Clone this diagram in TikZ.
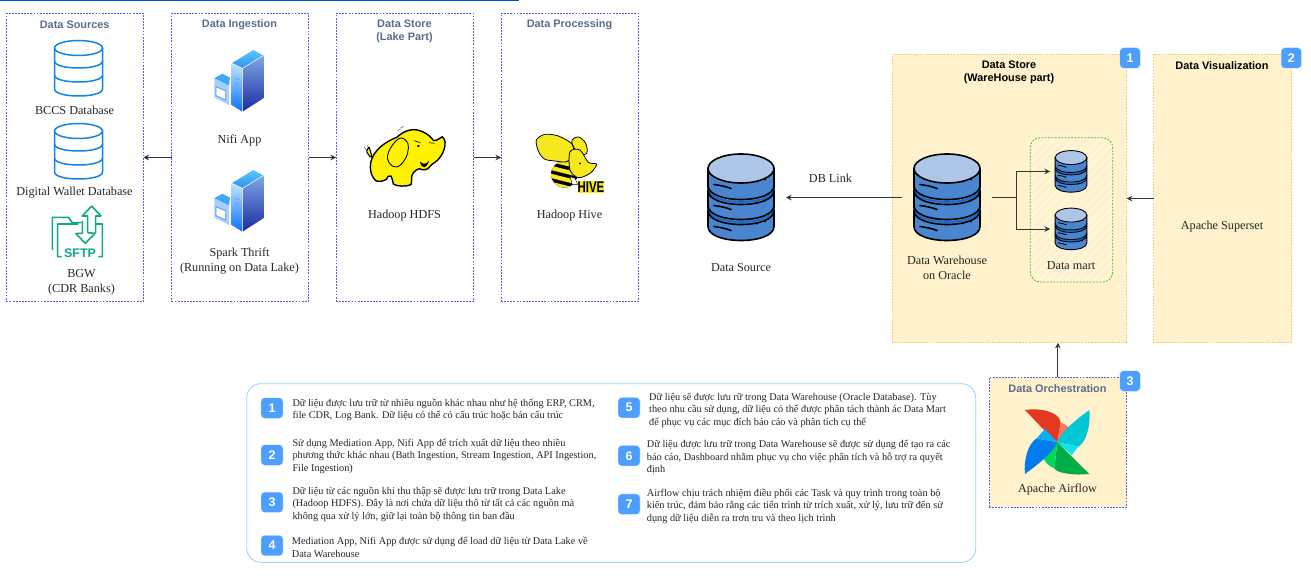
\documentclass[tikz,border=0pt]{standalone}
\usepackage{fontspec}
\setmainfont{Liberation Serif}
\newfontfamily\hfont{Liberation Sans}
\usetikzlibrary{arrows.meta,calc}
\definecolor{tealc}{HTML}{10A884}
\definecolor{slatec}{HTML}{5A6C8C}
\definecolor{dbline}{HTML}{0F85E8}
\definecolor{dbfillc}{HTML}{4A86D0}
\definecolor{dbtop}{HTML}{AEC6E8}
\definecolor{dbstripe}{HTML}{1268CC}
\definecolor{creamc}{HTML}{FFF2CC}
\definecolor{creamline}{HTML}{F0CF80}
\definecolor{badgec}{HTML}{4D9FFF}
\definecolor{panelc}{HTML}{5A5AF5}
\definecolor{hivey}{HTML}{F8E81E}
\definecolor{srvtopa}{HTML}{5AC8FF}
\definecolor{srvtopb}{HTML}{3090F0}
\definecolor{srvfra}{HTML}{BFE4FF}
\definecolor{srvfrb}{HTML}{0A70FF}
\definecolor{srvria}{HTML}{7EA6E6}
\definecolor{srvrib}{HTML}{1A2CA0}
\definecolor{srvboxa}{HTML}{A5CFFF}
\definecolor{srvboxb}{HTML}{3FA8FA}
\definecolor{srvedge}{HTML}{5A90F0}
\newcommand\dbarc[3]{(-#1,#2) .. controls (-#1,#2+#3*1.333) and (#1,#2+#3*1.333) .. (#1,#2)}
\tikzset{
  panel/.style={draw=panelc,line width=0.7pt,dash pattern=on 1.8pt off 1.3pt,inner sep=0,outer sep=0,anchor=north west},
  wpanel/.style={panel,draw=creamline,fill=creamc},
  head/.style={font=\hfont\bfseries\fontsize{10.9}{13}\selectfont,text=slatec,align=center,inner sep=0,yshift=-1pt},
  bhead/.style={head,text=black},
  lbl/.style={font=\fontsize{12.2}{15}\selectfont,text=black!85,align=center,inner sep=0,yshift=-1pt},
  note/.style={font=\fontsize{10.3}{12.4}\selectfont,text=black!85,align=left,anchor=west,inner sep=0,yshift=-1.3pt},
  badge/.style={fill=badgec,draw=white!85!badgec,line width=0.4pt,rounded corners=3.5pt,minimum width=20.5pt,minimum height=20.5pt,inner sep=0,text=white,font=\hfont\bfseries\fontsize{12.5}{14}\selectfont},
  conn/.style={-{Stealth[length=5.5pt,width=5.5pt]},line width=0.8pt,draw=black!80},
  iconbox/.style={inner sep=0,outer sep=0,minimum width=#1},
  pics/dbline/.style={code={
    \draw[dbline,line width=1.5pt,fill=white] (-24,-20) -- \dbarc{24}{21}{7} -- (24,-20);
    \draw[dbline,line width=1.5pt] (0,-20) ellipse[x radius=24,y radius=7.5];
    \draw[dbline,line width=1.5pt] \dbarc{24}{-7}{7};
    \draw[dbline,line width=1.5pt] \dbarc{24}{7}{7};
  }},
  pics/dbfill/.style={code={
    \draw[black,fill=dbfillc] (-33,-29) -- \dbarc{33}{29}{14} -- (33,-29) -- cycle;
    \draw[black,fill=dbtop] (0,-29) ellipse[x radius=33,y radius=14.5];
    \draw[dbstripe] \dbarc{33}{-9.5}{14};
    \draw[black] \dbarc{33}{-12}{14};
    \draw[black] \dbarc{33}{-7}{14};
    \draw[dbstripe] \dbarc{33}{10.5}{14};
    \draw[black] \dbarc{33}{8}{14};
    \draw[black] \dbarc{33}{13}{14};
    \foreach \yy in {-13,8,29}{
      \draw[black,line cap=round] (-27,\yy) .. controls (-20,\yy+1) and (-15,\yy+2) .. (-10,\yy+4);
      \fill[black] (16,\yy-3) circle[radius=1.2];
      \fill[black] (24,\yy-5) circle[radius=1.2];
    }
  }},
  pics/server/.style={code={
    \shade[top color=srvtopa,bottom color=srvtopb] (80,55)--(145,15)--(175,32)--(112,70)--cycle;
    \shade[top color=srvfra,bottom color=srvfrb] (80,55)--(112,70)--(112,200)--(80,180)--cycle;
    \shade[top color=srvria,bottom color=srvrib] (112,70)--(175,32)--(175,160)--(112,200)--cycle;
    \draw[white,line width=0.5pt] (80,55)--(112,70)--(175,32) (112,70)--(112,200);
    \draw[srvedge,line width=0.5pt] (90,100)--(102,105) (90,113)--(102,118);
    \fill[srvboxb] (28,100)--(52,86)--(75,98)--(72,122)--cycle;
    \fill[srvboxa] (28,100)--(72,122)--(72,180)--(28,158)--cycle;
    \draw[srvedge,fill=white,line width=0.7pt] (33,125)--(62,138)--(62,165)--(33,152)--cycle;
  }},
  pics/sftp/.style={code={
    \draw[tealc,line width=1.6pt,line join=round]
      (140,18)--(168,48)--(152,48)--(152,100)
      (140,18)--(112,48)--(128,48)--(128,98)
      (92,100)--(112,100)--(112,62)
      (128,98)--(150,100)--(121,130)--(92,100)
      (50,170)--(38,170)--(38,72)--(100,72)
      (22,150)--(22,52)--(70,52)--(82,68)--(108,68)
      (152,72)--(172,72)--(172,170)--(160,170);
    \node[inner sep=0,text=tealc,font=\hfont\bfseries\fontsize{12.5}{13}\selectfont] at (105,160) {SFTP};
  }},
  pics/elephant/.style={code={
    \draw[black!60,line width=0.5pt] (28,82)--(36,92) (36,76)--(42,84) (135,25)--(146,19) (128,32)--(136,28);
    \draw[black,line width=1.1pt,fill=yellow,line join=round]
      (50,105) .. controls (44,95) and (48,88) .. (42,82) .. controls (34,88) and (34,100) .. (38,100) .. controls (42,108) and (46,112) .. (52,112) -- cycle;
    \draw[black,line width=1.4pt,fill=yellow,line join=round] (46,140) .. controls (46,105) and (75,72) .. (125,52)
      .. controls (150,30) and (175,22) .. (205,36) .. controls (222,44) and (230,55) .. (236,62)
      .. controls (245,62) and (255,55) .. (262,50) .. controls (275,60) and (272,85) .. (258,108)
      .. controls (248,125) and (232,130) .. (226,138) .. controls (220,150) and (205,152) .. (192,146)
      .. controls (182,150) and (172,158) .. (170,170) .. controls (168,178) and (172,188) .. (168,194)
      .. controls (155,200) and (125,200) .. (115,192) .. controls (112,180) and (112,175) .. (108,168)
      .. controls (100,166) and (96,170) .. (94,178) .. controls (85,184) and (70,186) .. (62,182)
      .. controls (50,170) and (46,155) .. (46,140) -- cycle;
    \draw[black,line width=0.9pt,fill=yellow] plot[smooth cycle,tension=0.7] coordinates {
      (128,58) (100,98) (102,128) (125,141) (150,118) (160,85) (152,60)};
    \fill[black] (190,78) circle[x radius=5,y radius=3];
    \draw[black,line width=0.6pt] (178,62) -- (196,68);
    \draw[black,line width=0.6pt] (222,68) -- (238,70);
    \fill[black] (195,125) .. controls (205,135) and (215,132) .. (222,122) .. controls (215,148) and (200,148) .. (195,125);
  }},
  pics/hive/.style={code={
    \begin{scope}
      \clip (118,148) circle[radius=40];
      \fill[black] (118,148) circle[radius=40];
      \foreach \yy in {96,120,144,168}{
        \fill[hivey] (70,\yy) -- (165,\yy+24) -- (165,\yy+37) -- (70,\yy+13) -- cycle;}
    \end{scope}
    \draw[black,line width=0.8pt,fill=hivey,line join=round] plot[smooth cycle,tension=0.5] coordinates {
      (34,45) (60,28) (100,33) (140,56) (145,85) (125,110) (90,108) (58,102) (40,78)};
    \draw[black,line width=0.8pt,fill=hivey] plot[smooth cycle,tension=0.6] coordinates {
      (140,50) (160,36) (182,55) (185,85) (160,85)};
    \draw[black,line width=0.8pt,fill=hivey] plot[smooth cycle,tension=0.5] coordinates {
      (135,80) (165,75) (190,112) (215,118) (195,145) (160,158) (135,135)};
    \fill[black] (165,115) circle[radius=3];
    \fill[white,draw=black,line width=0.4pt] (135,155) -- (150,160) -- (158,178) -- (142,178) -- cycle;
    \fill[hivey] (158,168) rectangle (238,205);
    \node[inner sep=0,text=black,font=\hfont\bfseries\fontsize{13.5}{14}\selectfont] at (198,187) {\scalebox{0.85}[1.15]{HIVE}};
  }},
  pics/airflow/.style={code={
    \definecolor{afr}{HTML}{E43921}\definecolor{afrl}{HTML}{FF7557}
    \definecolor{afc}{HTML}{00C7D4}\definecolor{afcl}{HTML}{11E1EE}
    \definecolor{afg}{HTML}{00AD46}\definecolor{afgl}{HTML}{04D659}
    \definecolor{afb}{HTML}{017CEE}\definecolor{afbl}{HTML}{00B1F6}
    \fill[afr] (15,15) .. controls (60,8) and (118,20) .. (122,52) -- (112,112) -- (72,75) -- cycle;
    \fill[afrl] (122,52) .. controls (135,58) and (148,66) .. (155,75) -- (112,112) -- cycle;
    \fill[afc] (208,15) .. controls (212,60) and (200,110) .. (175,125) -- (112,112) .. controls (120,85) and (160,50) .. (208,15) -- cycle;
    \fill[afcl] (175,125) -- (155,150) -- (112,112) -- cycle;
    \fill[afg] (208,207) .. controls (165,212) and (110,205) .. (103,190) -- (112,112) -- (150,150) -- cycle;
    \fill[afgl] (103,190) .. controls (88,185) and (76,172) .. (70,160) -- (112,112) -- cycle;
    \fill[afb] (15,207) .. controls (10,165) and (25,115) .. (50,100) -- (112,112) .. controls (100,140) and (65,170) .. (15,207) -- cycle;
    \fill[afbl] (50,100) -- (75,72) -- (112,112) -- cycle;
  }},
}
\begin{document}
\begin{tikzpicture}[x=1pt,y=-1pt]
\useasboundingbox (0,0) rectangle (1311,588);
\fill[blue!60!cyan!80!black] (0,0) rectangle (518.5,1.2);

% left panels
\node[panel,minimum width=137pt,minimum height=288pt] (src) at (6.5,13.5) {};
\node[panel,minimum width=137pt,minimum height=288pt] (ing) at (171.5,13.5) {};
\node[panel,minimum width=137.5pt,minimum height=288pt] (lake) at (336,13.5) {};
\node[panel,minimum width=137.5pt,minimum height=288pt] (proc) at (501,13.5) {};
\node[head] (tsrc) at (74.7,24) {Data Sources};
\node[head] (ting) at (239.5,24) {Data Ingestion};
\node[head] (tlake) at (404.5,30.5) {Data Store\\(Lake Part)};
\node[head] (tproc) at (569.5,24) {Data Processing};

\pic at (78.5,68) {dbline};
\pic at (78.5,151) {dbline};
\node[lbl] (l1) at (74.5,109) {BCCS Database};
\node[lbl] (l2) at (74.5,191.5) {Digital Wallet Database};
\pic[scale=1/3] at (45,200) {sftp};
\node[lbl] (l3) at (81.5,281) {BGW\\(CDR Banks)};

\pic[scale=1/3] at (205,45) {server};
\pic[scale=1/3] at (205,165) {server};
\node[lbl] (l4) at (239.5,140) {Nifi App};
\node[lbl] (l5) at (239.5,260.5) {Spark Thrift\\(Running on Data Lake)};

\pic[scale=1/3] at (355,120) {elephant};
\node[lbl] (l6) at (404.5,215) {Hadoop HDFS};
\pic[scale=1/3] at (525,125) {hive};
\node[lbl] (l7) at (569.5,215) {Hadoop Hive};

\draw[conn] (ing.west) -- (src.east);
\draw[conn] (ing.east) -- (lake.west);
\draw[conn] (lake.east) -- (proc.west);

% warehouse
\node[wpanel,minimum width=234.5pt,minimum height=288.5pt] (wh) at (892.3,54.3) {};
\node[wpanel,minimum width=138pt,minimum height=288.5pt] (viz) at (1153.7,54.3) {};
\node[wpanel,draw=panelc,minimum width=137.7pt,minimum height=130pt] (orch) at (989,377.3) {};
\node[bhead] (twh) at (1009,71.5) {Data Store\\(WareHouse part)};
\node[bhead] (tviz) at (1222,65) {Data Visualization};
\node[head] (torch) at (1057.5,388) {Data Orchestration};
\node[lbl] (l8) at (1222,226) {Apache Superset};
\pic[scale=1/3] at (1020,405) {airflow};
\node[lbl] (l9) at (1057.5,488) {Apache Airflow};

\begin{scope}
  \clip[rounded corners=10pt] (1030.3,137.7) rectangle (1112.7,282);
  \foreach \k in {0,9,...,250}{
    \draw[white,line width=0.5pt] (1030+\k-145,282) -- (1030+\k,137);
  }
\end{scope}
\node[draw=green!65!black!80,line width=0.8pt,dash pattern=on 1.8pt off 1.5pt,rounded corners=10pt,minimum width=82.4pt,minimum height=144.3pt,inner sep=0,outer sep=0,anchor=north west] (mart) at (1030.3,137.7) {};

\node[iconbox=90pt,minimum height=88pt] (ds) at (741,197.5) {};
\node[iconbox=90pt,minimum height=88pt] (dw) at (947,197.5) {};
\node[iconbox=42pt,minimum height=40pt] (m1) at (1071,171.5) {};
\node[iconbox=42pt,minimum height=40pt] (m2) at (1071,229) {};
\pic[line width=1.6pt] at (ds) {dbfill};
\pic[line width=1.6pt] at (dw) {dbfill};
\pic[scale=0.48,line width=0.9pt] at (m1) {dbfill};
\pic[scale=0.48,line width=0.9pt] at (m2) {dbfill};

\node[lbl] (l10) at (741,267) {Data Source};
\node[lbl] (l11) at (947,267) {Data Warehouse\\on Oracle};
\node[lbl] (l12) at (1071,264.5) {Data mart};
\node[lbl] (l13) at (830.5,177.7) {DB Link};

\coordinate (fork) at (1016.3,197.5);
\draw[conn] (dw.west) -- (ds.east);
\draw[conn] (dw.east) -- (fork) |- (m1.west);
\draw[conn] (fork) |- (m2.west);
\draw[conn] (viz.west) -- (wh.east);
\draw[conn] (orch.north) -- (orch.north |- wh.south);

\node[badge] (b1) at (1130,58) {1};
\node[badge] (b2) at (1291.3,58) {2};
\node[badge] (b3) at (1130,381) {3};

% notes
\node[draw=blue!40!cyan!40!white,line width=0.9pt,rounded corners=14pt,minimum width=729pt,minimum height=178.6pt,inner sep=0,outer sep=0,anchor=north west] (notes) at (246.7,383.7) {};
\node[badge,minimum width=22pt] (n1) at (272,408) {1};
\node[badge,minimum width=22pt] (n2) at (272,455) {2};
\node[badge,minimum width=22pt] (n3) at (272,502.3) {3};
\node[badge,minimum width=22pt] (n4) at (272,545.5) {4};
\node[badge,minimum width=22pt] (n5) at (629,407.7) {5};
\node[badge,minimum width=22pt] (n6) at (629,455.7) {6};
\node[badge,minimum width=22pt] (n7) at (629,504.2) {7};

\node[note] (t1) at (292.3,408.5) {Dữ liệu được lưu trữ từ nhiều nguồn khác nhau như hệ thống ERP, CRM,\\file CDR, Log Bank. Dữ liệu có thể có cấu trúc hoặc bán cấu trúc};
\node[note] (t2) at (292.3,455) {Sử dụng Mediation App, Nifi App để trích xuất dữ liệu theo nhiều\\phương thức khác nhau (Bath Ingestion, Stream Ingestion, API Ingestion,\\File Ingestion)};
\node[note] (t3) at (292.3,502.7) {Dữ liệu từ các nguồn khi thu thập sẽ được lưu trữ trong Data Lake\\(Hadoop HDFS). Đây là nơi chứa dữ liệu thô từ tất cả các nguồn mà\\không qua xử lý lớn, giữ lại toàn bộ thông tin ban đầu};
\node[note] (t4) at (291.7,546) {Mediation App, Nifi App được sử dụng để load dữ liệu từ Data Lake về\\Data Warehouse};
\node[note] (t5) at (649,409) {Dữ liệu sẽ được lưu rữ trong Data Warehouse (Oracle Database). Tùy\\theo nhu cầu sử dụng, dữ liệu có thể được phân tách thành ác Data Mart\\để phục vụ các mục đích báo cáo và phân tích cụ thể};
\node[note] (t6) at (646.7,456) {Dữ liệu được lưu trữ trong Data Warehouse sẽ được sử dụng để tạo ra các\\báo cáo, Dashboard nhằm phục vụ cho việc phân tích và hỗ trợ ra quyết\\định};
\node[note] (t7) at (646.7,505) {Airflow chịu trách nhiệm điều phối các Task và quy trình trong toàn bộ\\kiến trúc, đảm bảo rằng các tiến trình từ trích xuất, xử lý, lưu trữ đến sử\\dụng dữ liệu diễn ra trơn tru và theo lịch trình};
\end{tikzpicture}
\end{document}
